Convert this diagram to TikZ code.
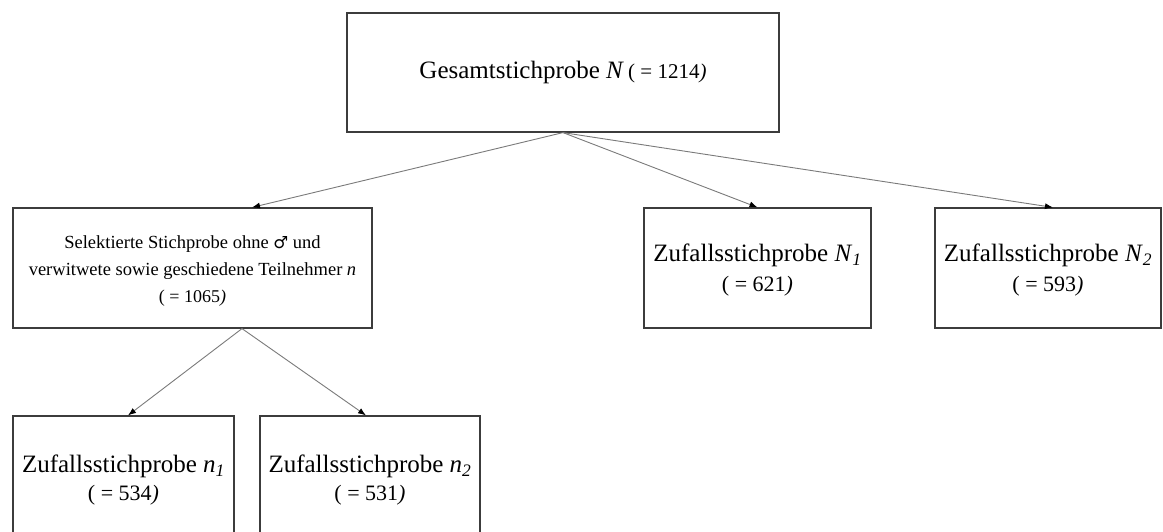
\documentclass[tikz,border=0pt]{standalone}
\usepackage{fontspec}
\setmainfont{Liberation Serif}
\newfontfamily\symfont[Scale=0.9]{DejaVu Sans}
\usetikzlibrary{arrows.meta}
\definecolor{boxgray}{HTML}{3C3C3C}
\definecolor{linkgray}{HTML}{7A7A7A}
% sample size in parentheses, closing bracket set in italics
\newcommand\samplesize[1]{( = #1\textit{)}}
\begin{document}
\begin{tikzpicture}[x=1pt,y=-1pt,
  box/.style={draw=boxgray,line width=1.2pt,rectangle,inner sep=0pt},
  caption/.style={inner sep=0pt,align=center},
  link/.style={draw=linkgray,line width=0.9pt,-{Latex[length=8pt,width=6pt,fill=black,color=black]}},
  bigtext/.style={font=\fontsize{25}{30}\selectfont},
  smalltext/.style={font=\fontsize{18.5}{27}\selectfont}]
\useasboundingbox (0,0) rectangle (1163,531);
\clip (0,0) rectangle (1163,531);

% boxes
\node[box,minimum width=432pt,minimum height=119pt] (ges) at (563,72.5) {};
\node[box,minimum width=359pt,minimum height=120pt] (sel) at (192.5,268) {};
\node[box,minimum width=227pt,minimum height=120pt] (za) at (757.5,268) {};
\node[box,minimum width=226pt,minimum height=120pt] (zb) at (1048,268) {};
\node[box,minimum width=221pt,minimum height=126pt] (na) at (123.5,479) {};
\node[box,minimum width=220pt,minimum height=126pt] (nb) at (370,479) {};

% box texts
\node[caption,bigtext] (gestext) at (ges.center)
  {Gesamtstichprobe \textit{N}\,{\fontsize{21}{25}\selectfont\samplesize{1214}}};
\node[caption,smalltext] (seltext) at ([yshift=-3pt]sel.center)
  {Selektierte Stichprobe ohne {\symfont ♂} und\\
   verwitwete sowie geschiedene Teilnehmer \textit{n}\\
   {\fontsize{18}{27}\selectfont\samplesize{1065}}};
\node[caption,bigtext] (zatext) at ([yshift=-2pt]za.center)
  {Zufallsstichprobe \textit{N}\textsubscript{\textit{1}}\\
   {\fontsize{22}{30}\selectfont\samplesize{621}}};
\node[caption,bigtext] (zbtext) at ([yshift=-2pt]zb.center)
  {Zufallsstichprobe \textit{N}\textsubscript{\textit{2}}\\
   {\fontsize{22}{30}\selectfont\samplesize{593}}};
\node[caption,bigtext] (natext) at ([yshift=-1pt]na.center)
  {Zufallsstichprobe \textit{n}\textsubscript{\textit{1}}\\[-2pt]
   {\fontsize{22}{30}\selectfont\samplesize{534}}};
\node[caption,bigtext] (nbtext) at ([yshift=-1pt]nb.center)
  {Zufallsstichprobe \textit{n}\textsubscript{\textit{2}}\\[-2pt]
   {\fontsize{22}{30}\selectfont\samplesize{531}}};

% connectors
\draw[link] (ges.south) -- ([xshift=59.5pt]sel.north);
\draw[link] (ges.south) -- (za.north);
\draw[link] (ges.south) -- ([xshift=5pt]zb.north);
\draw[link] ([xshift=49.5pt]sel.south) -- ([xshift=4.5pt]na.north);
\draw[link] ([xshift=49.5pt]sel.south) -- ([xshift=-4pt]nb.north);
\end{tikzpicture}
\end{document}
